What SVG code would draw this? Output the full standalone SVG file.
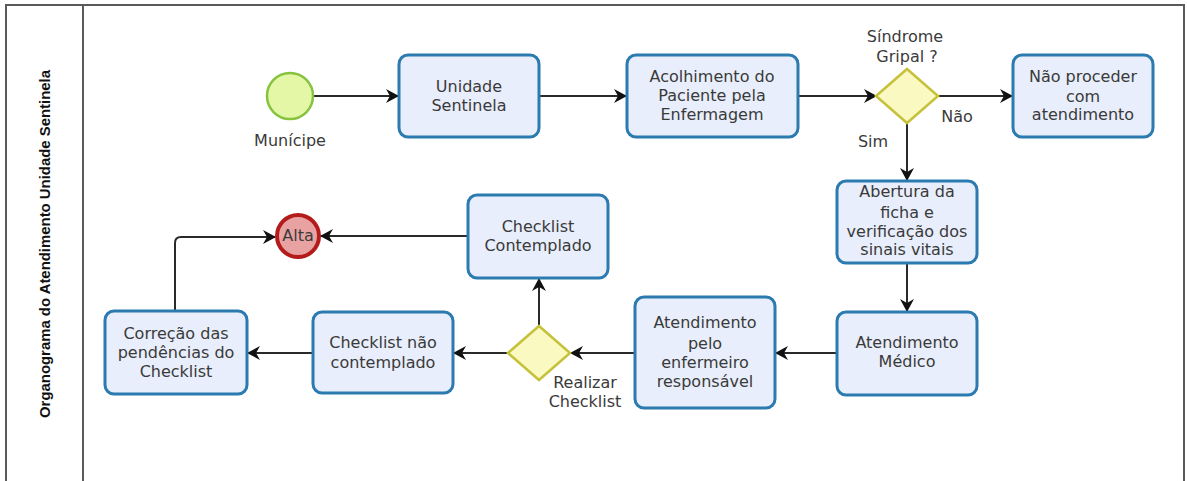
<svg xmlns="http://www.w3.org/2000/svg" width="1187" height="481" viewBox="0 0 1187 481">
<style>
.frame{fill:none;stroke:#5a5a5a;stroke-width:2}
.task{fill:#e8eefb;stroke:#2b7bb0;stroke-width:3}
.gw{fill:#fbf9c2;stroke:#c6c13a;stroke-width:2.5}
.t{font-family:"DejaVu Sans",Verdana,sans-serif;font-size:16px;fill:#3a3a3a;text-anchor:middle}
.lane{font-family:"Liberation Sans",Arial,sans-serif;font-size:14px;font-weight:bold;fill:#111;text-anchor:middle}
.c{fill:none;stroke:#2a2a2a;stroke-width:2}
</style>
<defs>
<marker id="ah" markerWidth="14" markerHeight="14" refX="12" refY="7" orient="auto" markerUnits="userSpaceOnUse">
<path d="M0,0 L13,7 L0,14 L4,7 z" fill="#111"/>
</marker>
</defs>
<rect x="0" y="0" width="1187" height="481" fill="#ffffff"/>
<g id="pool">
<path class="frame" d="M6,490 V5 H1184 V490"/>
<line class="frame" x1="83" y1="5" x2="83" y2="490"/>
<text class="lane" transform="translate(50,244) rotate(-90)" textLength="348" lengthAdjust="spacingAndGlyphs">Organograma do Atendimento Unidade Sentinela</text>
</g>
<g id="connectors">
<line class="c" x1="313" y1="96" x2="398" y2="96" marker-end="url(#ah)"/>
<line class="c" x1="539" y1="96" x2="626" y2="96" marker-end="url(#ah)"/>
<line class="c" x1="798" y1="96" x2="876" y2="96" marker-end="url(#ah)"/>
<line class="c" x1="938" y1="96" x2="1012" y2="96" marker-end="url(#ah)"/>
<line class="c" x1="907" y1="123" x2="907" y2="180" marker-end="url(#ah)"/>
<line class="c" x1="907" y1="263" x2="907" y2="311" marker-end="url(#ah)"/>
<line class="c" x1="837" y1="353" x2="776" y2="353" marker-end="url(#ah)"/>
<line class="c" x1="635" y1="353" x2="571" y2="353" marker-end="url(#ah)"/>
<line class="c" x1="508" y1="353" x2="454" y2="353" marker-end="url(#ah)"/>
<line class="c" x1="313" y1="353" x2="248" y2="353" marker-end="url(#ah)"/>
<line class="c" x1="539" y1="326" x2="539" y2="279" marker-end="url(#ah)"/>
<line class="c" x1="468" y1="236" x2="321" y2="236" marker-end="url(#ah)"/>
<path class="c" d="M175,311 V243 Q175,237 181,237 H275" marker-end="url(#ah)"/>
</g>
<g id="start">
<circle cx="290" cy="96" r="23" fill="#e4f7a6" stroke="#86c33f" stroke-width="2.5"/>
<text class="t" x="290" y="146">Munícipe</text>
</g>
<g id="unidade">
<rect class="task" x="399" y="55" width="140" height="82" rx="9"/>
<text class="t" x="469" y="92">Unidade</text>
<text class="t" x="469" y="111">Sentinela</text>
</g>
<g id="acolhimento">
<rect class="task" x="627" y="55" width="171" height="82" rx="9"/>
<text class="t" x="712" y="82">Acolhimento do</text>
<text class="t" x="712" y="101">Paciente pela</text>
<text class="t" x="712" y="120">Enfermagem</text>
</g>
<g id="gw-sindrome">
<polygon class="gw" points="876,96 907,69 938,96 907,123"/>
<text class="t" x="905" y="42">Síndrome</text>
<text class="t" x="907" y="62">Gripal ?</text>
<text class="t" x="957" y="122">Não</text>
<text class="t" x="873" y="147">Sim</text>
</g>
<g id="nao-proceder">
<rect class="task" x="1013" y="55" width="140" height="82" rx="9"/>
<text class="t" x="1083" y="82">Não proceder</text>
<text class="t" x="1083" y="102">com</text>
<text class="t" x="1083" y="120">atendimento</text>
</g>
<g id="abertura">
<rect class="task" x="837" y="181" width="140" height="82" rx="9"/>
<text class="t" x="907" y="197">Abertura da</text>
<text class="t" x="907" y="218">ficha e</text>
<text class="t" x="907" y="237">verificação dos</text>
<text class="t" x="907" y="255">sinais vitais</text>
</g>
<g id="medico">
<rect class="task" x="837" y="312" width="140" height="83" rx="9"/>
<text class="t" x="907" y="348">Atendimento</text>
<text class="t" x="907" y="367">Médico</text>
</g>
<g id="enfermeiro">
<rect class="task" x="635" y="297" width="140" height="111" rx="9"/>
<text class="t" x="705" y="328">Atendimento</text>
<text class="t" x="705" y="349">pelo</text>
<text class="t" x="705" y="368">enfermeiro</text>
<text class="t" x="705" y="387">responsável</text>
</g>
<g id="gw-checklist">
<polygon class="gw" points="508,353 539,326 570,353 539,380"/>
<text class="t" x="585" y="388">Realizar</text>
<text class="t" x="585" y="407">Checklist</text>
</g>
<g id="contemplado">
<rect class="task" x="468" y="195" width="140" height="83" rx="9"/>
<text class="t" x="538" y="232">Checklist</text>
<text class="t" x="538" y="251">Contemplado</text>
</g>
<g id="nao-contemplado">
<rect class="task" x="313" y="312" width="140" height="81" rx="9"/>
<text class="t" x="383" y="348">Checklist não</text>
<text class="t" x="383" y="368">contemplado</text>
</g>
<g id="correcao">
<rect class="task" x="105" y="311" width="142" height="83" rx="9"/>
<text class="t" x="176" y="339">Correção das</text>
<text class="t" x="176" y="358">pendências do</text>
<text class="t" x="176" y="377">Checklist</text>
</g>
<g id="alta">
<circle cx="298" cy="236" r="21" fill="#e9a2a2" stroke="#b41c1c" stroke-width="4"/>
<text class="t" x="298" y="241">Alta</text>
</g>
</svg>
